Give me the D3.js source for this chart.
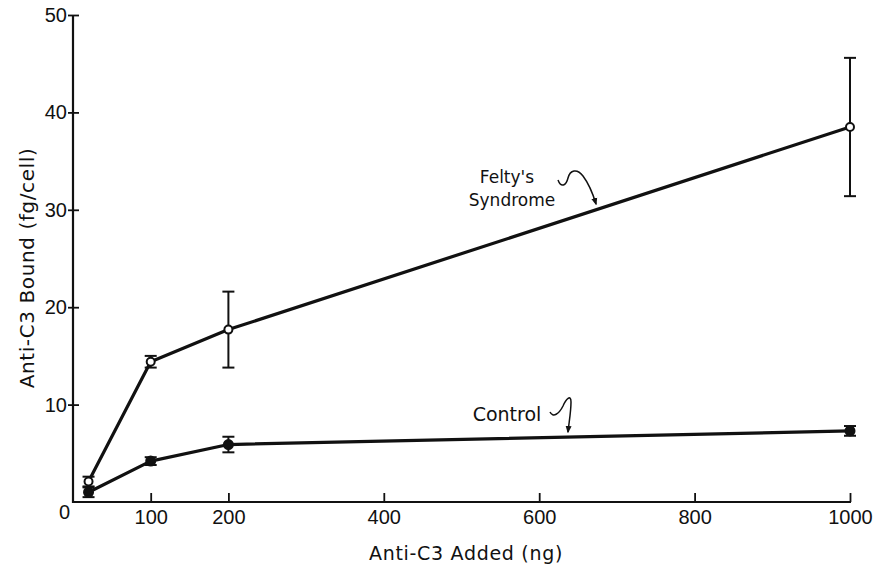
<!DOCTYPE html>
<html>
<head>
<meta charset="utf-8">
<script src="https://cdn.jsdelivr.net/npm/d3@7/dist/d3.min.js"></script>
<style>
  html, body { margin: 0; padding: 0; background: #fff; }
  svg { display: block; }
  text { fill: #111; }
  .tick text { font-family: "Liberation Sans", Arial, sans-serif; }
  .label { font-family: "DejaVu Sans", "Noto Sans", sans-serif; }
</style>
</head>
<body>
<svg id="chart" width="874" height="568"></svg>
<script>
// Anti-C3 added (ng) at each measurement
const doses = [20, 100, 200, 1000];
// Mean anti-C3 bound (fg/cell) and error-bar half-widths
const feltyMean = [2.1, 14.4, 17.7, 38.5];
const feltyErr  = [0.5, 0.6, 3.9, 7.1];
const controlMean = [1.0, 4.2, 5.9, 7.3];
const controlErr  = [0.5, 0.4, 0.8, 0.5];
// Axis ticks
const xTicks = [100, 200, 400, 600, 800, 1000];
const yTicks = [0, 10, 20, 30, 40, 50];

const svg = d3.select("#chart");
const x = d3.scaleLinear().domain([0, 1000]).range([73, 850]);
const y = d3.scaleLinear().domain([0, 50]).range([502, 15]);

const ink = "#111";

// Axes
const xAxis = svg.append("g").attr("transform", `translate(0,${y(0)})`)
  .call(d3.axisBottom(x).tickValues(xTicks).tickFormat(d3.format("d"))
    .tickSizeInner(-9).tickSizeOuter(0).tickPadding(8));
xAxis.select(".domain").attr("stroke", ink).attr("stroke-width", 2.2)
  .attr("d", `M${x(0) - 1},0H${x(1000) + 1}`);
xAxis.selectAll(".tick line").attr("stroke", ink).attr("stroke-width", 1.8);
xAxis.selectAll(".tick text").attr("font-size", 20).attr("fill", ink);

const yAxis = svg.append("g").attr("transform", `translate(${x(0)},0)`)
  .call(d3.axisLeft(y).tickValues(yTicks).tickSize(0).tickPadding(6));
yAxis.select(".domain").attr("stroke", ink).attr("stroke-width", 2.2)
  .attr("d", `M0,${y(50)}V${y(0) + 1}`);
yAxis.selectAll(".tick").filter(d => d > 0).append("line")
  .attr("x1", -5).attr("x2", 6).attr("stroke", ink).attr("stroke-width", 1.8);
yAxis.selectAll(".tick text").attr("font-size", 20).attr("fill", ink);
yAxis.selectAll(".tick").filter(d => d === 0).select("text")
  .attr("x", -3).attr("dy", "0.82em");

// Axis titles
svg.append("text").attr("class", "label").attr("x", 466).attr("y", 560)
  .attr("text-anchor", "middle").attr("font-size", 19).attr("letter-spacing", 0.7)
  .text("Anti-C3 Added (ng)");
svg.append("text").attr("class", "label")
  .attr("transform", "translate(34,268) rotate(-90)")
  .attr("text-anchor", "middle").attr("font-size", 20).attr("letter-spacing", 0.6)
  .text("Anti-C3 Bound (fg/cell)");

function drawSeries(means, errs, filled) {
  const pts = doses.map((d, i) => ({ d, m: means[i], e: errs[i] }));
  const line = d3.line().x(p => x(p.d)).y(p => y(p.m));
  svg.append("path").datum(pts).attr("d", line)
    .attr("fill", "none").attr("stroke", ink).attr("stroke-width", 3.2)
    .attr("stroke-linejoin", "round");
  const eb = svg.append("g").selectAll("g").data(pts).join("g");
  eb.append("line").attr("x1", p => x(p.d)).attr("x2", p => x(p.d))
    .attr("y1", p => y(p.m - p.e)).attr("y2", p => y(p.m + p.e))
    .attr("stroke", ink).attr("stroke-width", 2);
  eb.selectAll(".cap").data(p => [[p.d, p.m - p.e], [p.d, p.m + p.e]]).join("line")
    .attr("x1", c => x(c[0]) - 6).attr("x2", c => x(c[0]) + 6)
    .attr("y1", c => y(c[1])).attr("y2", c => y(c[1]))
    .attr("stroke", ink).attr("stroke-width", 2);
  eb.append("circle").attr("cx", p => x(p.d)).attr("cy", p => y(p.m))
    .attr("r", filled ? 4.5 : 4)
    .attr("fill", filled ? ink : "#fff").attr("stroke", ink).attr("stroke-width", 2);
}
drawSeries(feltyMean, feltyErr, false);
drawSeries(controlMean, controlErr, true);

// Annotations with curly pointer arrows
svg.append("defs").append("marker").attr("id", "head")
  .attr("viewBox", "0 0 10 10").attr("refX", 8).attr("refY", 5)
  .attr("markerWidth", 5).attr("markerHeight", 5).attr("orient", "auto")
  .append("path").attr("d", "M0,1L10,5L0,9Z").attr("fill", ink);

svg.append("text").attr("class", "label").attr("x", 507).attr("y", 183)
  .attr("text-anchor", "middle").attr("font-size", 17).text("Felty's");
svg.append("text").attr("class", "label").attr("x", 512).attr("y", 206)
  .attr("text-anchor", "middle").attr("font-size", 17).text("Syndrome");
svg.append("path")
  .attr("d", "M558,180 C561,188 566,186 568,178 C570,170 577,168 583,176 C589,184 593,194 596,204")
  .attr("fill", "none").attr("stroke", ink).attr("stroke-width", 1.5).attr("marker-end", "url(#head)");

svg.append("text").attr("class", "label").attr("x", 507).attr("y", 421)
  .attr("text-anchor", "middle").attr("font-size", 19).text("Control");
svg.append("path")
  .attr("d", "M550,412 C553,418 559,414 563,406 C566,399 571,394 571,402 C571,412 569,422 568,432")
  .attr("fill", "none").attr("stroke", ink).attr("stroke-width", 1.5).attr("marker-end", "url(#head)");
</script>
</body>
</html>
